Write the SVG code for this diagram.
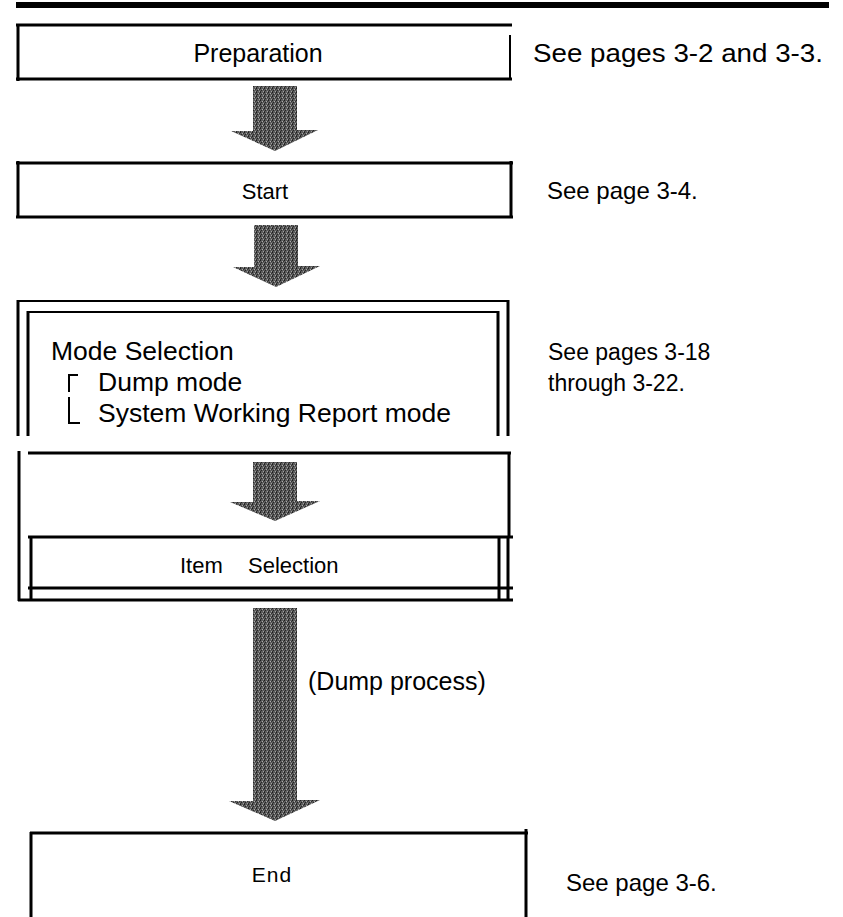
<svg xmlns="http://www.w3.org/2000/svg" width="843" height="917" viewBox="0 0 843 917">
<defs>
<pattern id="stip" width="4" height="4" patternUnits="userSpaceOnUse">
<rect width="4" height="4" fill="#5c5c5c"/>
<rect x="0" y="0" width="1" height="1" fill="#1e1e1e"/>
<rect x="2" y="1" width="1" height="1" fill="#acacac"/>
<rect x="1" y="2" width="1" height="1" fill="#262626"/>
<rect x="3" y="3" width="1" height="1" fill="#a0a0a0"/>
<rect x="3" y="1" width="1" height="1" fill="#333"/>
<rect x="0" y="3" width="1" height="1" fill="#2e2e2e"/>
</pattern>
<style>
.ln{stroke:#000;stroke-width:3;fill:none}
.ln2{stroke:#000;stroke-width:2;fill:none}
.t{font-family:"Liberation Sans",Arial,sans-serif;fill:#000}
.arr{fill:url(#stip)}
</style>
</defs>
<rect width="843" height="917" fill="#fff"/>
<rect x="16" y="2" width="813" height="6" fill="#000"/>

<g id="preparation">
<path class="ln" d="M16,25 H512 M16,79 H512 M18,24 V81"/>
<path class="ln2" d="M510,35 V79"/>
<text class="t" x="258" y="62" font-size="25" text-anchor="middle">Preparation</text>
<text class="t" x="533" y="62" font-size="25" textLength="290" lengthAdjust="spacingAndGlyphs">See pages 3-2 and 3-3.</text>
</g>

<g id="start">
<path class="ln" d="M16,163 H513 M16,217 H513 M18,161 V218 M511,161 V218"/>
<text class="t" x="265" y="199" font-size="22" text-anchor="middle">Start</text>
<text class="t" x="547" y="199" font-size="24">See page 3-4.</text>
</g>

<g id="mode-selection">
<path class="ln2" d="M17,301 H509 M27,312 H499"/>
<path class="ln" d="M18,300 V436 M28,311 V436 M498,311 V436 M508,300 V436"/>
<path class="ln2" d="M78,375 H69 V392 M69,397 V423 H80"/>
<text class="t" x="51" y="360" font-size="26.5">Mode Selection</text>
<text class="t" x="98" y="391" font-size="26.5">Dump mode</text>
<text class="t" x="98" y="422" font-size="26.5">System Working Report mode</text>
<text class="t" x="548" y="360" font-size="23">See pages 3-18</text>
<text class="t" x="548" y="391" font-size="23">through 3-22.</text>
</g>

<g id="item-selection">
<path class="ln" d="M19,451 V601 M28,453 H511 M509,452 V537 M18,600 H513 M28,537 H513 M31,536 V600 M28,588 H513 M499,536 V600 M508,536 V600"/>
<text class="t" x="180" y="573" font-size="22">Item <tspan x="248">Selection</tspan></text>
</g>

<g id="end">
<path class="ln" d="M30,833 H528 M31,832 V917 M526,829 V917"/>
<text class="t" x="272" y="882" font-size="21" text-anchor="middle" letter-spacing="1">End</text>
<text class="t" x="566" y="891" font-size="24">See page 3-6.</text>
</g>

<g id="connectors">
<path class="arr" d="M253,86 H297 V130 H318 L275,151 L231,131 H253 Z"/>
<path class="arr" d="M254,225 H298 V266 H320 L276,287 L233,267 H254 Z"/>
<path class="arr" d="M253,462 H297 V501 H320 L275,521 L230,502 H253 Z"/>
<path class="arr" d="M253,608 H297 V800 H320 L275,821 L229,801 H253 Z"/>
<text class="t" x="308" y="690" font-size="25">(Dump process)</text>
</g>
</svg>
